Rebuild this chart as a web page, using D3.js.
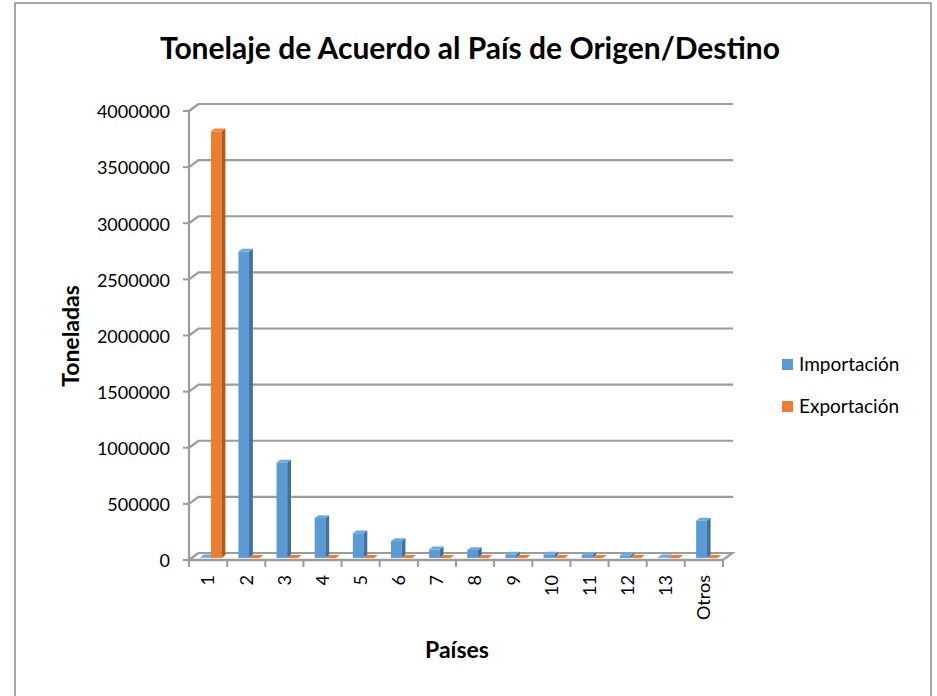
<!DOCTYPE html>
<html>
<head>
<meta charset="utf-8">
<script src="https://cdn.jsdelivr.net/npm/d3@7"></script>
<style>
  body { margin:0; background:#fff; }
  text { font-family: Lato, "Open Sans", sans-serif; fill:#000; }
</style>
</head>
<body>
<svg id="chart" width="937" height="696"></svg>
<script>
// data
const paises = ["1","2","3","4","5","6","7","8","9","10","11","12","13","Otros"];
const importacion = [5000, 2730000, 850000, 356000, 220000, 151000, 76000, 71000, 29000, 29000, 25000, 22000, 5000, 332000];
const exportacion = [3800000, 0, 0, 0, 0, 0, 0, 0, 0, 0, 0, 0, 0, 0];
const series = ["Importación", "Exportación"];
const yTicks = [0, 500000, 1000000, 1500000, 2000000, 2500000, 3000000, 3500000, 4000000];

const colors = {"Importación":"#5b9bd5", "Exportación":"#ed7d31"};
const sideColors = {"Importación":"#41719c", "Exportación":"#ae5a21"};
const topColors = {"Importación":"#6fa8dc", "Exportación":"#f08a45"};

const svg = d3.select('#chart');
const depth = {dx:9.5, dy:-7};   // front -> back wall offset

// outer frame
svg.append('rect')
  .attr('x',15).attr('y',3).attr('width',916).attr('height',700)
  .attr('fill','#fff').attr('stroke','#8c8c8c').attr('stroke-width',1.5);

const x = d3.scaleBand().domain(paises).range([189,723]);
const xs = d3.scaleBand().domain(series).range([0,x.bandwidth()]).paddingOuter(0.79);
const y = d3.scaleLinear().domain([0,4000000]).range([560,111]);

const grid = '#9c9c9c';

// back wall gridlines + left ledge
const gGrid = svg.append('g');
yTicks.forEach(t => {
  gGrid.append('path')
    .attr('d', `M189,${y(t)} L${189+depth.dx},${y(t)+depth.dy} L${723+depth.dx+0.5},${y(t)+depth.dy}`)
    .attr('fill','none').attr('stroke',grid).attr('stroke-width',2.2);
});

// floor
svg.append('path')
  .attr('d', `M189,${y(0)} L723,${y(0)} L${723+depth.dx},${y(0)+depth.dy} L${189+depth.dx},${y(0)+depth.dy} Z`)
  .attr('fill','#fff').attr('stroke',grid).attr('stroke-width',2.2);

// y axis (front)
svg.append('line')
  .attr('x1',189).attr('x2',189).attr('y1',y(4000000)).attr('y2',y(0))
  .attr('stroke',grid).attr('stroke-width',2.2);
svg.append('g').selectAll('line').data(yTicks).enter().append('line')
  .attr('x1',183).attr('x2',189).attr('y1',d=>y(d)).attr('y2',d=>y(d))
  .attr('stroke',grid).attr('stroke-width',2);
svg.append('g').selectAll('text').data(yTicks).enter().append('text')
  .attr('x',170).attr('y',d=>y(d)+1).attr('dy','0.35em')
  .attr('text-anchor','end').style('font-size','18px')
  .text(d=>d);

// x axis (front) ticks
const bounds = paises.map(p=>x(p)).concat([723]);
svg.append('g').selectAll('line').data(bounds).enter().append('line')
  .attr('x1',d=>d).attr('x2',d=>d).attr('y1',y(0)).attr('y2',y(0)+7)
  .attr('stroke',grid).attr('stroke-width',2);
svg.append('line')
  .attr('x1',189).attr('x2',723).attr('y1',y(0)).attr('y2',y(0))
  .attr('stroke',grid).attr('stroke-width',2.5);

svg.append('g').selectAll('text').data(paises).enter().append('text')
  .attr('transform', d=>`translate(${x(d)+x.bandwidth()/2},575) rotate(-90)`)
  .attr('text-anchor','end').attr('dy','0.35em')
  .style('font-size','18px')
  .text(d=>d);

// 3D bars
const fr = {x:depth.dx*0.3, y:depth.dy*0.3};
const bk = {x:depth.dx*0.7, y:depth.dy*0.7};
const bars = [];
paises.forEach((p,i) => {
  bars.push({p, s:"Importación", v:importacion[i]});
  bars.push({p, s:"Exportación", v:exportacion[i]});
});
const gBars = svg.append('g');
bars.forEach(d => {
  const x0 = x(d.p) + xs(d.s), w = xs.bandwidth();
  const yt = y(d.v), yb = y(0);
  const g = gBars.append('g');
  // front face
  g.append('rect')
    .attr('x', x0+fr.x).attr('y', yt+fr.y)
    .attr('width', w).attr('height', yb-yt)
    .attr('fill', colors[d.s]);
  // side
  g.append('path')
    .attr('d', `M${x0+w+fr.x},${yt+fr.y} L${x0+w+bk.x},${yt+bk.y} L${x0+w+bk.x},${yb+bk.y} L${x0+w+fr.x},${yb+fr.y} Z`)
    .attr('fill', sideColors[d.s]);
  // top
  g.append('path')
    .attr('d', `M${x0+fr.x},${yt+fr.y} L${x0+bk.x},${yt+bk.y} L${x0+w+bk.x},${yt+bk.y} L${x0+w+fr.x},${yt+fr.y} Z`)
    .attr('fill', d.v > 0 ? topColors[d.s] : colors[d.s]);
});

// titles
svg.append('text')
  .attr('x',470).attr('y',59).attr('text-anchor','middle')
  .style('font-size','30px').style('font-weight','bold')
  .text('Tonelaje de Acuerdo al País de Origen/Destino');
svg.append('text')
  .attr('transform','translate(79,336) rotate(-90)')
  .attr('text-anchor','middle')
  .style('font-size','23px').style('font-weight','bold')
  .text('Toneladas');
svg.append('text')
  .attr('x',457).attr('y',658).attr('text-anchor','middle')
  .style('font-size','23px').style('font-weight','bold')
  .text('Países');

// legend
const leg = svg.append('g').attr('transform','translate(782,364)');
series.forEach((s,i) => {
  const r = leg.append('g').attr('transform',`translate(0,${i*42})`);
  r.append('rect').attr('x',0).attr('y',-5).attr('width',11).attr('height',11).attr('fill',colors[s]);
  r.append('text').attr('x',17).attr('y',0).attr('dy','0.35em')
    .style('font-size','19px').text(s);
});
</script>
</body>
</html>
